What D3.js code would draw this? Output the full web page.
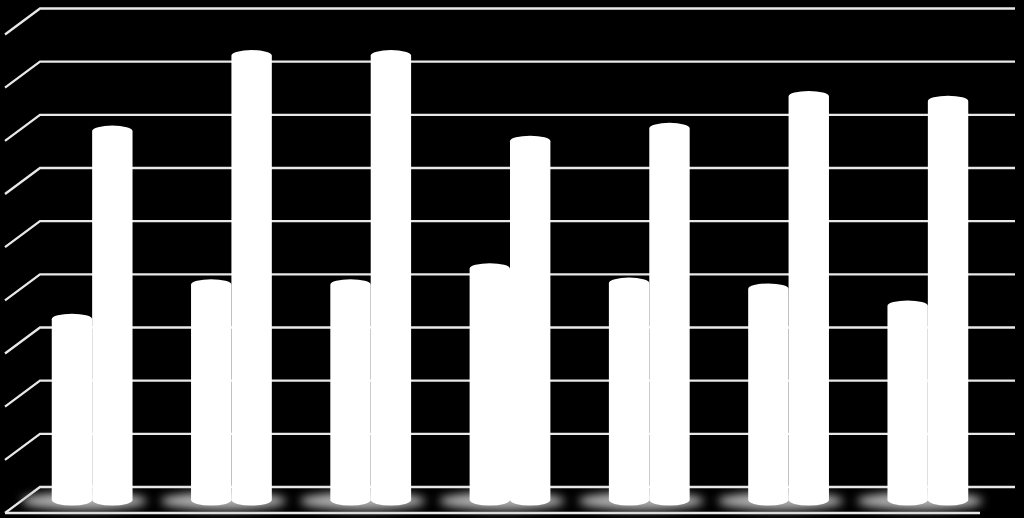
<!DOCTYPE html>
<html>
<head>
<meta charset="utf-8">
<script src="https://cdn.jsdelivr.net/npm/d3@7"></script>
<style>
  html, body { margin: 0; padding: 0; background: #000; }
  svg { display: block; }
</style>
</head>
<body>
<div id="chart"></div>
<script>
// values (grid units, 0..9)
const categories = ['1', '2', '3', '4', '5', '6', '7'];
const seriesA = [3.4, 4.05, 4.05, 4.35, 4.08, 3.97, 3.65];
const seriesB = [6.94, 8.36, 8.36, 6.75, 6.99, 7.59, 7.5];
const yTicks = [0, 1, 2, 3, 4, 5, 6, 7, 8, 9];

const width = 1024, height = 518;
// back wall of the 3d box, and depth offset toward the viewer
const back = {left: 40, right: 1015, bottom: 487, top: 8.5};
const depth = {dx: -35, dy: 26};

const svg = d3.select('#chart').append('svg')
  .attr('width', width)
  .attr('height', height)
  .style('background', '#000');

const defs = svg.append('defs');
defs.append('filter')
    .attr('id', 'soft')
    .attr('x', '-50%').attr('y', '-200%')
    .attr('width', '200%').attr('height', '500%')
  .append('feGaussianBlur')
    .attr('stdDeviation', 5);

const yBack = d3.scaleLinear()
  .domain([0, 9])
  .range([back.bottom, back.top]);

// bars sit half way into the depth
const midX = depth.dx / 2, midY = depth.dy / 2;

const x = d3.scaleBand()
  .domain(categories)
  .range([back.left + midX, back.right + midX])
  .paddingInner(0.42)
  .paddingOuter(0.21);

const bw = x.bandwidth() / 2;
const y = v => yBack(v) + midY;

// gridlines: back wall line plus the diagonal on the side wall
const grid = svg.append('g').attr('class', 'grid')
  .attr('stroke', '#e8e8e8')
  .attr('stroke-width', 2.3)
  .attr('fill', 'none');

grid.selectAll('path.hline')
  .data(yTicks)
  .join('path')
    .attr('class', 'hline')
    .attr('d', d => `M${back.left + depth.dx},${yBack(d) + depth.dy} L${back.left},${yBack(d)} L${back.right},${yBack(d)}`);

// front edge of the floor
grid.append('path')
  .attr('d', `M${back.left + depth.dx},${yBack(0) + depth.dy} L${back.right + depth.dx},${yBack(0) + depth.dy}`);

// soft shadow under each pair
svg.append('g').attr('class', 'shadows')
  .selectAll('ellipse')
  .data(categories)
  .join('ellipse')
    .attr('cx', d => x(d) + bw - 8)
    .attr('cy', y(0) + 1)
    .attr('rx', bw * 1.55)
    .attr('ry', 9)
    .attr('fill', '#b0b0b0')
    .attr('filter', 'url(#soft)');

// one closed shape per cylinder: rounded cap on top, rounded base
function cylinder(g, x0, v) {
  const r = bw / 2, ry = 5.5;
  const top = y(v), base = y(0);
  g.append('path')
    .attr('d', `M${x0},${top} A${r},${ry} 0 0 1 ${x0 + bw},${top} L${x0 + bw},${base} A${r},${ry} 0 0 1 ${x0},${base} Z`)
    .attr('fill', '#fff');
}

const bars = svg.append('g').attr('class', 'bars');
categories.forEach((c, i) => {
  const g = bars.append('g');
  cylinder(g, x(c), seriesA[i]);
  cylinder(g, x(c) + bw, seriesB[i]);
});
</script>
</body>
</html>
